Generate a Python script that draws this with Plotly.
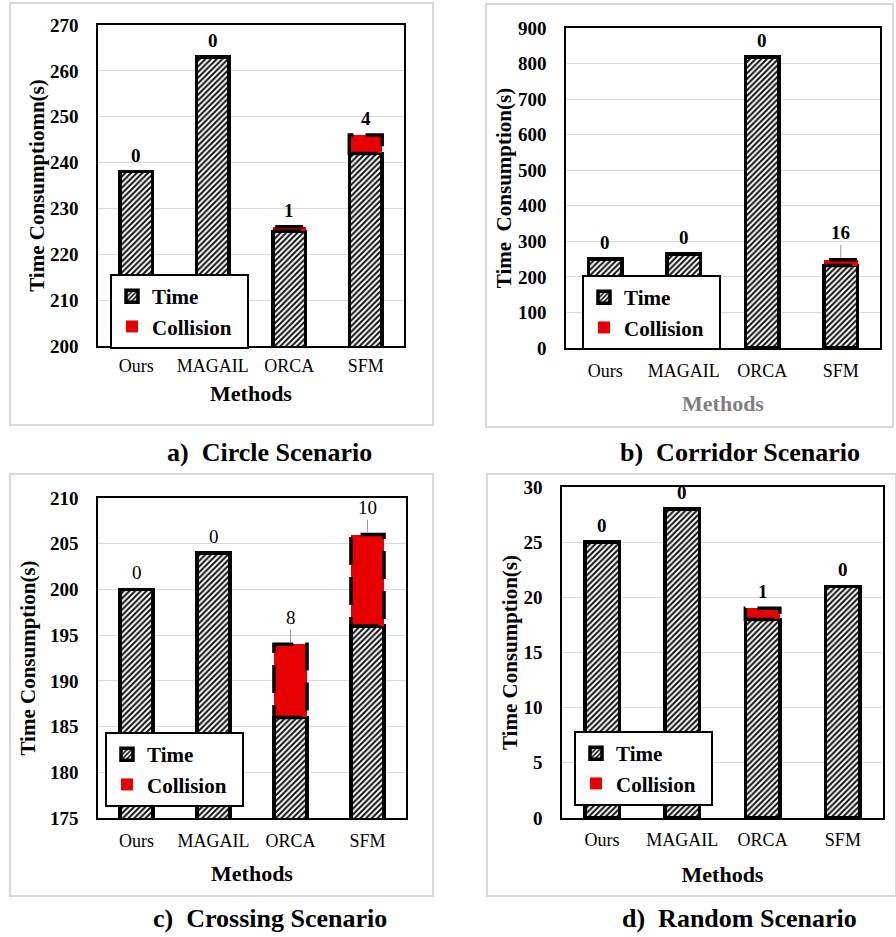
import plotly.graph_objects as go

categories = ["Ours", "MAGAIL", "ORCA", "SFM"]

circle_time = [238, 263, 225, 242]
circle_coll = [0, 0, 1, 4]
corridor_time = [250, 265, 818, 232]
corridor_coll = [0, 0, 0, 16]
crossing_time = [200, 204, 186, 196]
crossing_coll = [0, 0, 8, 10]
random_time = [25, 28, 18, 21]
random_coll = [0, 0, 1, 0]

y_titles = ["Time Consumptiomn(s)", "Time\u00a0\u00a0Consumption(s)",
            "Time Consumption(s)", "Time Consumption(s)"]
captions = ["a)\u00a0\u00a0Circle Scenario", "b)\u00a0\u00a0Corridor Scenario",
            "c)\u00a0\u00a0Crossing Scenario", "d)\u00a0\u00a0Random Scenario"]
y_ranges = [[200, 270], [0, 900], [175, 210], [0, 30]]
y_dticks = [10, 100, 5, 5]
leader_labels = [[], ["SFM"], ["ORCA", "SFM"], []]

panels = [
    (circle_time, circle_coll),
    (corridor_time, corridor_coll),
    (crossing_time, crossing_coll),
    (random_time, random_coll),
]

W, H = 896, 937
FONT = "Liberation Serif"

def px(x):
    return x / W

def py(y):
    return 1 - y / H

# plot-area pixel boxes (left, right, top, bottom)
areas = [(98, 404, 25, 346), (566, 880, 28, 348), (98, 406, 498, 818), (562, 883, 487, 818)]
outer = [(10, 433, 3, 425), (486, 893, 4, 427), (10, 433, 474, 896), (487, 896, 474, 896)]
legend_pos = [(110, 274), (582, 275), (105, 732), (574, 731)]
caption_pos = [(269, 452), (740, 452), (270, 918), (739, 918)]
ytitle_standoff = [0, 1, 9, 0]
xtick_standoff = [3, 6, 6, 5]
xtitle_standoff = [10, 15, 15, 17]
methods_color = ["black", "#7f7f7f", "black", "black"]
label_bold = [True, True, False, True]

BAR_W = 0.43

fig = go.Figure()
layout = dict(
    template="none",
    width=W, height=H, margin=dict(l=0, r=0, t=0, b=0, pad=0, autoexpand=False),
    paper_bgcolor="white", plot_bgcolor="white",
    barmode="stack", showlegend=True,
    font=dict(family=FONT, color="black"),
)
shapes = []
annotations = []

for i, (tvals, cvals) in enumerate(panels):
    n = "" if i == 0 else str(i + 1)
    xa, ya = "x" + n, "y" + n
    lg = "legend" + n
    fig.add_trace(go.Bar(
        x=categories, y=tvals, name="<b>Time</b>", xaxis=xa, yaxis=ya, legend=lg,
        width=BAR_W,
        marker=dict(color="white",
                    pattern=dict(shape="/", fgcolor="#111111", bgcolor="white", size=4, solidity=0.5),
                    line=dict(color="black", width=3.5)),
    ))
    fig.add_trace(go.Bar(
        x=categories, y=cvals, name="<b>Collision</b>\u00a0\u00a0", xaxis=xa, yaxis=ya, legend=lg,
        width=BAR_W,
        marker=dict(color="#e80000", line=dict(color="black", width=0)),
    ))
    L, R, T, B = areas[i]
    layout["xaxis" + n] = dict(
        domain=[px(L), px(R)], anchor=ya, type="category", automargin=False,
        showline=True, mirror=True, linecolor="black", linewidth=1.5,
        showgrid=False, ticks="", ticklabelstandoff=xtick_standoff[i],
        tickfont=dict(family=FONT, size=18, color="black"),
        title=dict(text="<b>Methods</b>", standoff=xtitle_standoff[i],
                   font=dict(family=FONT, size=22, color=methods_color[i])),
    )
    layout["yaxis" + n] = dict(
        domain=[py(B), py(T)], anchor=xa, range=y_ranges[i], dtick=y_dticks[i],
        automargin=False,
        showline=True, mirror=True, linecolor="black", linewidth=1.5,
        showgrid=True, gridcolor="#d9d9d9", gridwidth=1, zeroline=False,
        ticks="", ticklabelstandoff=14,
        tickfont=dict(family=FONT, size=19, color="black"),
        tickprefix="<b>", ticksuffix="</b>",
        title=dict(text="<b>" + y_titles[i] + "</b>", standoff=ytitle_standoff[i],
                   font=dict(family=FONT, size=21, color="black")),
    )
    lx, ly = legend_pos[i]
    layout[lg] = dict(
        x=px(lx), y=py(ly), xanchor="left", yanchor="top",
        bgcolor="white", bordercolor="black", borderwidth=2,
        traceorder="normal", tracegroupgap=0,
        font=dict(family=FONT, size=21, color="black"),
        itemwidth=30,
    )
    # outer gray box
    oL, oR, oT, oB = outer[i]
    shapes.append(dict(type="rect", xref="paper", yref="paper",
                       x0=px(oL), x1=px(oR), y0=py(oB), y1=py(oT),
                       line=dict(color="#d9d9d9", width=2), layer="below"))
    # dashed outlines around collision segments
    for j, (t, c) in enumerate(zip(tvals, cvals)):
        if c > 0:
            shapes.append(dict(type="rect", xref=xa, yref=ya,
                               x0=j - BAR_W / 2, x1=j + BAR_W / 2, y0=t, y1=t + c,
                               line=dict(color="black", width=3.5, dash="28px,12px"),
                               fillcolor="rgba(0,0,0,0)", layer="above"))
        txt = str(c)
        if label_bold[i]:
            txt = "<b>" + txt + "</b>"
        if categories[j] in leader_labels[i]:
            annotations.append(dict(x=categories[j], y=t + c, xref=xa, yref=ya,
                                    text=txt, showarrow=True, arrowhead=0, arrowwidth=1,
                                    arrowcolor="#999999", ax=0, ay=-27, standoff=2,
                                    font=dict(family=FONT, size=19, color="black")))
        else:
            annotations.append(dict(x=categories[j], y=t + c, xref=xa, yref=ya,
                                    text=txt, showarrow=False, yanchor="bottom", yshift=4,
                                    font=dict(family=FONT, size=19, color="black")))
    cx, cy = caption_pos[i]
    annotations.append(dict(x=px(cx), y=py(cy), xref="paper", yref="paper",
                            text="<b>" + captions[i] + "</b>", showarrow=False,
                            xanchor="center", yanchor="middle",
                            font=dict(family=FONT, size=26, color="black")))

layout["shapes"] = shapes
layout["annotations"] = annotations
fig.update_layout(**layout)
fig.write_html("out.html", config={"displayModeBar": False},
               post_script="document.body.style.margin='0';document.body.style.overflow='hidden';")
